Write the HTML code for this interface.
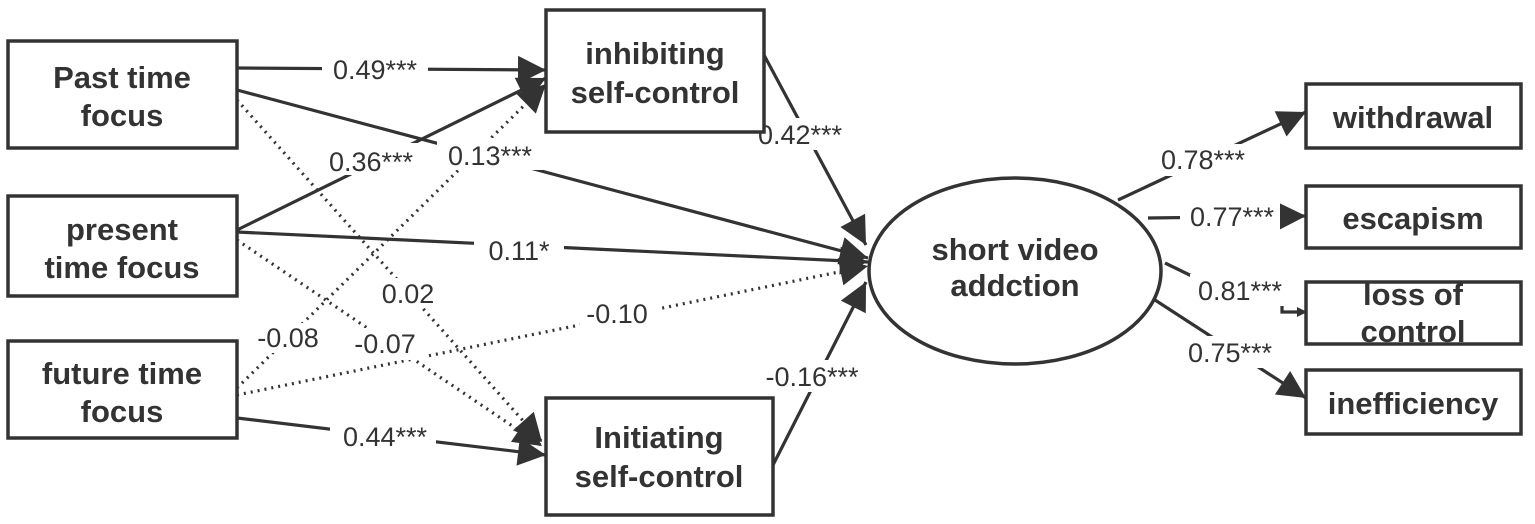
<!DOCTYPE html>
<html><head><meta charset="utf-8"><style>
body{margin:0;background:#fff}
svg{display:block}
.b{font-family:"Liberation Sans Narrow","Liberation Sans",sans-serif;font-weight:bold;font-size:31px;fill:#333;text-anchor:middle}
.n{font-family:"Liberation Sans Narrow","Liberation Sans",sans-serif;font-size:27px;fill:#333;text-anchor:middle}
.l{stroke:#333;stroke-width:3.2;fill:none}
.d{stroke:#333;stroke-width:3.2;fill:none;stroke-dasharray:2 5}
.r{stroke:#333;stroke-width:3.5;fill:#fff}
</style></head><body>
<svg width="1535" height="524" viewBox="0 0 1535 524" xmlns="http://www.w3.org/2000/svg">
<defs><marker id="a" markerWidth="10" markerHeight="10" refX="9" refY="5" orient="auto" markerUnits="userSpaceOnUse" viewBox="0 0 10 10"><path d="M0,0L10,5L0,10z" fill="#333"/></marker>
<marker id="A" viewBox="0 0 10 10" refX="10" refY="5" markerWidth="32" markerHeight="28" orient="auto" markerUnits="userSpaceOnUse"><path d="M0,0L10,5L0,10z" fill="#333"/></marker></defs>
<line class="l" x1="237" y1="68" x2="546" y2="70" marker-end="url(#A)"/>
<line class="l" x1="237" y1="90" x2="868" y2="258" marker-end="url(#A)"/>
<line class="d" x1="237" y1="100" x2="542" y2="442" marker-end="url(#A)"/>
<line class="l" x1="237" y1="230" x2="546" y2="78" marker-end="url(#A)"/>
<line class="l" x1="237" y1="232" x2="868" y2="262" marker-end="url(#A)"/>
<line class="d" x1="237" y1="240" x2="542" y2="446" marker-end="url(#A)"/>
<line class="d" x1="237" y1="388" x2="546" y2="84" marker-end="url(#A)"/>
<line class="d" x1="237" y1="395" x2="868" y2="266" marker-end="url(#A)"/>
<line class="l" x1="237" y1="418" x2="546" y2="455" marker-end="url(#A)"/>
<line class="l" x1="764" y1="55" x2="866" y2="245" marker-end="url(#A)"/>
<line class="l" x1="773" y1="465" x2="866" y2="282" marker-end="url(#A)"/>
<line class="l" x1="1118" y1="200" x2="1306" y2="112" marker-end="url(#A)"/>
<line class="l" x1="1148" y1="218" x2="1306" y2="216" marker-end="url(#A)"/>
<line class="l" x1="1165" y1="263" x2="1200" y2="280"/>
<polyline class="l" points="1282,302 1282,312 1306,312" marker-end="url(#a)"/>
<line class="l" x1="1155" y1="300" x2="1306" y2="398" marker-end="url(#A)"/>
<g fill="#fff">
<rect x="322" y="54" width="106" height="30"/><rect x="318" y="143" width="106" height="32"/><rect x="437" y="138" width="106" height="32"/>
<rect x="474" y="236" width="90" height="30"/><rect x="378" y="278" width="62" height="30"/><rect x="255" y="323" width="66" height="30"/>
<rect x="345" y="328" width="80" height="32"/><rect x="580" y="298" width="78" height="30"/><rect x="330" y="421" width="106" height="32"/>
<rect x="750" y="118" width="100" height="32"/><rect x="755" y="360" width="115" height="32"/><rect x="1150" y="144" width="106" height="32"/>
<rect x="1180" y="200" width="100" height="32"/><rect x="1190" y="274" width="100" height="32"/><rect x="1180" y="336" width="100" height="32"/>
</g>
<text class="n" x="375" y="79">0.49***</text>
<text class="n" x="371" y="171">0.36***</text>
<text class="n" x="490" y="165">0.13***</text>
<text class="n" x="519" y="260">0.11*</text>
<text class="n" x="408" y="303">0.02</text>
<text class="n" x="288" y="347">-0.08</text>
<text class="n" x="385" y="353">-0.07</text>
<text class="n" x="617" y="323">-0.10</text>
<text class="n" x="385" y="446">0.44***</text>
<text class="n" x="800" y="144">0.42***</text>
<text class="n" x="812" y="386">-0.16***</text>
<text class="n" x="1203" y="169">0.78***</text>
<text class="n" x="1232" y="226">0.77***</text>
<text class="n" x="1240" y="300">0.81***</text>
<text class="n" x="1230" y="362">0.75***</text>
<rect class="r" x="8" y="41" width="229" height="107"/>
<text class="b" x="122" y="88">Past time</text><text class="b" x="122" y="126">focus</text>
<rect class="r" x="8" y="196" width="229" height="100"/>
<text class="b" x="122" y="240">present</text><text class="b" x="122" y="278">time focus</text>
<rect class="r" x="8" y="341" width="229" height="97"/>
<text class="b" x="122" y="384">future time</text><text class="b" x="122" y="422">focus</text>
<rect class="r" x="546" y="10" width="218" height="122"/>
<text class="b" x="655" y="64">inhibiting</text><text class="b" x="655" y="103">self-control</text>
<rect class="r" x="546" y="398" width="227" height="117"/>
<text class="b" x="659" y="448">Initiating</text><text class="b" x="659" y="487">self-control</text>
<ellipse class="r" cx="1015" cy="271" rx="146" ry="93"/>
<text class="b" x="1015" y="260">short video</text><text class="b" x="1015" y="296">addction</text>
<rect class="r" x="1306" y="84" width="215" height="64"/><text class="b" x="1413" y="128">withdrawal</text>
<rect class="r" x="1306" y="186" width="215" height="62"/><text class="b" x="1413" y="229">escapism</text>
<rect class="r" x="1306" y="282" width="215" height="62"/><text class="b" x="1413" y="305">loss of</text><text class="b" x="1413" y="342">control</text>
<rect class="r" x="1306" y="370" width="215" height="64"/><text class="b" x="1413" y="414">inefficiency</text>
</svg>
</body></html>
